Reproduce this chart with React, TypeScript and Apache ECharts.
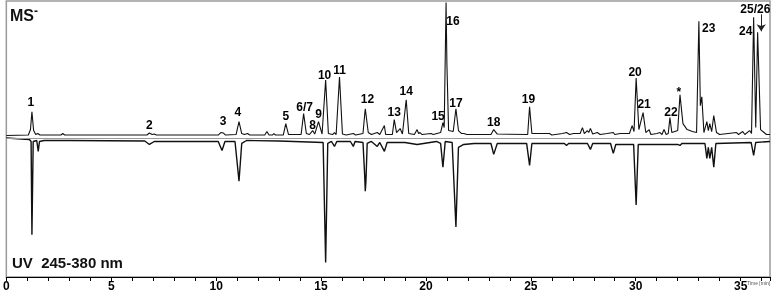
import React, { useEffect, useRef } from "react";
import * as echarts from "echarts";

// Retention time (min) and MS- intensity (relative units)
const msTime = [
  0.0, 1.05, 1.15, 1.22, 1.3, 1.4, 1.5, 1.6, 2.6, 2.69, 2.78, 6.7, 6.82, 6.95, 7.05, 7.15,
  10.1, 10.22, 10.35, 10.45, 10.95, 11.09, 11.22, 11.35, 11.5, 11.6, 12.32, 12.42, 12.52,
  12.68, 12.75, 12.83, 13.2, 13.32, 13.45, 14.05, 14.17, 14.3, 14.45, 14.6, 14.7, 14.88,
  15.05, 15.22, 15.35, 15.55, 15.64, 15.72, 15.88, 16.02, 16.2, 16.54, 16.65, 17.0, 17.08,
  17.11, 17.25, 17.4, 17.68, 17.8, 18.02, 18.08, 18.4, 18.49, 18.6, 18.77, 18.88, 19.06,
  19.18, 19.45, 19.58, 19.65, 19.72, 19.82, 20.24, 20.35, 20.7, 20.81, 20.87, 20.96, 21.0,
  21.08, 21.3, 21.43, 21.55, 21.7, 21.81, 21.95, 23.1, 23.23, 23.4, 24.85, 24.94, 25.05,
  25.89, 26.0, 26.51, 26.7, 26.85, 27.03, 27.35, 27.46, 27.55, 27.69, 27.76, 27.84, 27.95,
  28.17, 28.3, 28.64, 28.93, 29.0, 29.26, 29.7, 29.83, 29.92, 30.02, 30.15, 30.35, 30.48,
  30.64, 30.72, 31.01, 31.16, 31.25, 31.35, 31.45, 31.55, 31.63, 31.72, 32.0, 32.11, 32.25,
  32.45, 32.7, 32.9, 33.01, 33.08, 33.15, 33.25, 33.39, 33.46, 33.53, 33.62, 33.72, 33.85,
  34.0, 34.81, 34.9, 35.1, 35.2, 35.43, 35.52, 35.62, 35.72, 35.81, 35.95, 36.23, 36.4,
];
const msIntensity = [
  0, 0.5, 6, 24, 5, 1, 2, 0.5, 0.5, 2, 0.5, 0.5, 2.5, 1, 1.5, 0.5,
  0.5, 3, 2.5, 0.5, 1, 14, 2, 1, 2, 0.5, 0.5, 4, 0.5,
  0.5, 2, 0.5, 0.5, 12, 1, 1, 22, 2, 1, 5, 1.5, 14,
  1.5, 56, 2, 1, 3, 1, 59, 1.5, 0.5, 2, 0.5, 2, 21,
  27, 3, 1, 3, 1, 10, 1, 1, 16, 3, 7, 1.5, 36,
  2, 1, 6, 2, 3, 1, 2, 1, 3, 13, 8, 134, 72,
  5, 4, 27, 5, 2, 2, 1, 1, 6, 1.5, 1, 29, 2,
  2, 0.5, 2, 3, 1, 2, 2, 8, 2, 5, 3, 7, 1.5,
  3, 1, 2, 3, 1, 2, 2, 10, 4, 58, 6, 23, 3,
  6, 1, 2, 3, 1, 6, 1, 2, 18, 3, 5, 41, 12,
  6, 4, 3, 115, 30, 39, 3, 14, 5, 12, 4, 20, 3,
  1, 3, 1, 4, 1, 5, 2, 119, 8, 104, 6, 1, 1,
];

// UV 245-380 nm trace, drawn downwards (negative values)
const uvTime = [
  0.0, 1.1, 1.18, 1.22, 1.28, 1.45, 1.52, 1.58, 1.8, 3.0, 6.6, 6.82, 7.05, 10.1, 10.28,
  10.42, 10.9, 11.09, 11.22, 11.45, 13.0, 15.1, 15.22, 15.32, 15.5, 15.64, 15.75, 16.4,
  16.54, 16.62, 17.0, 17.08, 17.11, 17.14, 17.2, 17.4, 17.68, 17.8, 18.02, 18.15, 19.0,
  19.58, 20.5, 20.7, 20.81, 20.92, 21.25, 21.43, 21.55, 21.8, 22.3, 23.1, 23.23, 23.4,
  24.8, 24.94, 25.05, 26.6, 26.7, 26.8, 27.7, 27.84, 27.95, 28.8, 28.93, 29.05, 29.9,
  30.02, 30.12, 32.0, 32.11, 32.2, 33.3, 33.39, 33.46, 33.53, 33.62, 33.72, 33.82, 35.5,
  35.62, 35.72, 36.4,
];
const uvIntensity = [
  -2.5, -4, -6, -100, -6, -5, -16, -6, -5, -5, -5.5, -9, -6, -6, -15,
  -6, -6, -46, -8, -5, -5.5, -7, -128, -8, -6, -11, -6, -6,
  -11, -6, -7, -40, -56, -46, -8, -6, -11, -7, -16, -7, -7,
  -9, -6, -8, -32, -6, -7, -92, -12, -9, -8, -8, -19, -8,
  -8, -30, -8, -8, -10, -8, -8, -14, -8, -8, -18, -9, -9,
  -70, -9, -9, -10, -8, -8, -23, -12, -23, -12, -32, -8, -7,
  -20, -7, -6,
];

// Peak labels (placed in data coordinates near the peaks)
const peakNames = [
  "1", "2", "3", "4", "5", "6/7", "8", "9", "10", "11", "12", "13", "14", "15", "16",
  "17", "18", "19", "20", "21", "22", "*", "23", "24", "25/26",
];
const peakLabelTimes = [
  1.17, 6.82, 10.33, 11.04, 13.32, 14.22, 14.6, 14.88, 15.17, 15.88, 17.21, 18.49, 19.06,
  20.58, 21.29, 21.43, 23.23, 24.89, 29.97, 30.4, 31.68, 32.06, 33.48, 35.24, 35.7,
];
const peakLabelValues = [
  33.5, 10.5, 14.5, 23.5, 19.5, 28.5, 10.5, 21.5, 60.5, 65.5, 36.5, 23.5, 44.5,
  19.5, 115.5, 32.5, 13.5, 36.5, 63.5, 31.5, 23.5, 43.5, 108.5, 105.5, 127.5,
];

const xTickStep = 5;

export default function App() {
  const ref = useRef<HTMLDivElement>(null);

  useEffect(() => {
    if (!ref.current) return;
    const chart = echarts.init(ref.current, null, { renderer: "svg" });
    const font = "'Liberation Sans', Arial, sans-serif";

    const msData = msTime.map((t, i) => [t, msIntensity[i]]);
    const uvData = uvTime.map((t, i) => [t, uvIntensity[i]]);
    const labelData = peakNames.map((n, i) => ({
      name: n,
      value: [peakLabelTimes[i], peakLabelValues[i]],
    }));

    chart.setOption({
      animation: false,
      grid: {
        left: 3,
        right: 2,
        top: 1,
        bottom: 13,
        show: true,
        borderColor: "#9a9a9a",
        borderWidth: 1.5,
        backgroundColor: "#fff",
      },
      xAxis: {
        type: "value",
        min: 0,
        max: 36.4,
        interval: xTickStep,
        axisLine: { show: true, onZero: false, lineStyle: { color: "#000", width: 1 } },
        axisTick: { show: true, length: 4, lineStyle: { color: "#000" } },
        minorTick: { show: true, splitNumber: 5, length: 4, lineStyle: { color: "#000" } },
        splitLine: { show: false },
        axisLabel: {
          color: "#000",
          fontSize: 12,
          fontWeight: "bold",
          fontFamily: font,
          margin: 3,
          showMaxLabel: false,
        },
      },
      yAxis: {
        type: "value",
        min: -142.5,
        max: 135.5,
        show: false,
        splitLine: { show: false },
      },
      series: [
        {
          type: "line",
          name: "MS-",
          data: msData,
          showSymbol: false,
          symbol: "none",
          lineStyle: { color: "#111", width: 1.1 },
          z: 3,
          markLine: {
            silent: true,
            symbol: "none",
            label: { show: false },
            lineStyle: { color: "#9a9a9a", width: 1, type: "solid" },
            data: [{ yAxis: -3 }],
          },
        },
        {
          type: "line",
          name: "UV",
          data: uvData,
          showSymbol: false,
          symbol: "none",
          lineStyle: { color: "#111", width: 1.4 },
          z: 3,
        },
        {
          type: "scatter",
          data: labelData,
          symbolSize: 0,
          silent: true,
          z: 5,
          itemStyle: { opacity: 1 },
          label: {
            show: true,
            position: "inside",
            formatter: "{b}",
            color: "#000",
            opacity: 1,
            textBorderWidth: 0,
            fontSize: 12,
            fontWeight: "bold",
            fontFamily: font,
          },
          markLine: {
            silent: true,
            symbol: ["none", "arrow"],
            symbolSize: [7, 7],
            label: { show: false },
            lineStyle: { color: "#222", width: 1, type: "solid" },
            data: [[{ coord: [35.98, 122] }, { coord: [35.98, 105] }]],
          },
        },
      ],
      graphic: [
        {
          type: "text",
          left: 10,
          top: 5,
          style: {
            text: "{a|MS}{b|-}",
            rich: {
              a: { fontSize: 16, fontWeight: "bold", fontFamily: font, fill: "#111" },
              b: {
                fontSize: 12,
                fontWeight: "bold",
                fontFamily: font,
                fill: "#111",
                verticalAlign: "top",
                padding: [0, 0, 8, 0],
              },
            },
          },
        },
        {
          type: "text",
          left: 12,
          top: 255,
          style: {
            text: "UV  245-380 nm",
            fontSize: 15,
            fontWeight: "bold",
            fontFamily: font,
            fill: "#111",
          },
        },
        {
          type: "text",
          left: 747,
          top: 280,
          style: {
            text: "Time [min]",
            fontSize: 5,
            fontFamily: font,
            fill: "#555",
          },
        },
      ],
    });

    return () => chart.dispose();
  }, []);

  return (
    <div
      ref={ref}
      style={{ position: "fixed", left: 0, top: 0, width: 772, height: 292 }}
    />
  );
}
